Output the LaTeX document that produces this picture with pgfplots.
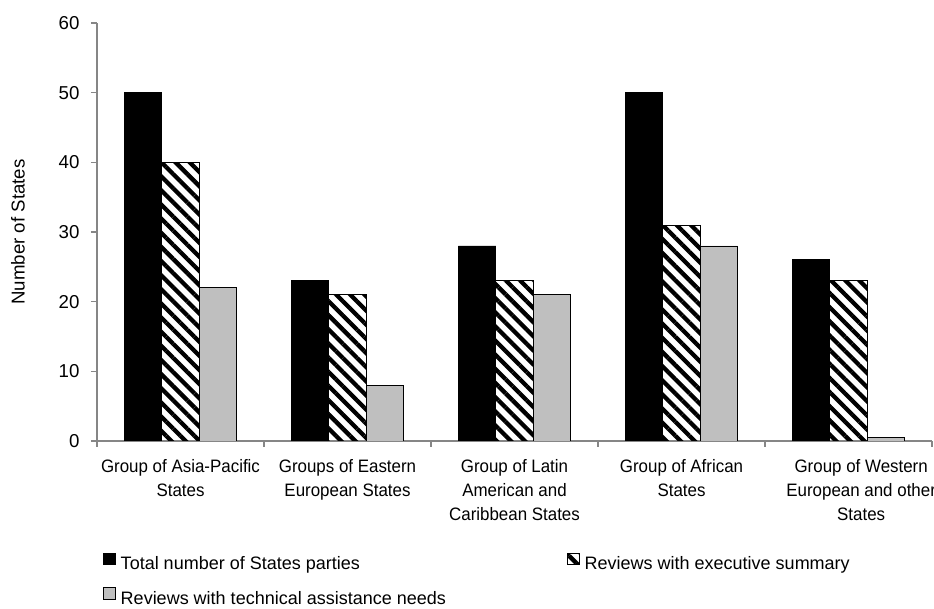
\documentclass[border=0pt]{standalone}
\usepackage{fontspec}
\setmainfont{Liberation Sans}
\newfontfamily\catfont[FakeStretch=0.94]{Liberation Sans}
\usepackage{pgfplots}
\pgfplotsset{compat=1.18}
\usetikzlibrary{patterns.meta}
\definecolor{axgray}{RGB}{134,134,134}
\definecolor{bargray}{RGB}{191,191,191}
\begin{document}
\begin{tikzpicture}
\useasboundingbox (-72.75pt,-126pt) rectangle (627.75pt,330.75pt);
\begin{axis}[
  at={(0,0)}, anchor=south west,
  scale only axis, width=626.25pt, height=313.5pt,
  xmin=-0.5, xmax=4.5, ymin=0, ymax=60,
  ybar=0pt, bar width=28.1pt,
  every axis plot/.append style={
    legend image code/.code={\draw[##1, line width=0.6pt] (0pt,-0.5pt) rectangle (8.5pt,8pt);}
  },
  axis x line*=bottom, axis y line*=left,
  axis line style={draw=axgray, line width=1pt},
  tick align=outside,
  major tick length=4.5pt, minor tick length=4.5pt,
  ytick={0,10,...,60},
  xtick={0,1,2,3,4},
  major x tick style={draw=none},
  minor xtick={-0.5,0.5,1.5,2.5,3.5,4.5},
  minor x tick style={draw=axgray, line width=1pt},
  major y tick style={draw=axgray, line width=1pt},
  xticklabels={{Group of Asia-Pacific\\States},{Groups of Eastern\\European States},{Group of Latin\\American and\\Caribbean States},{Group of African\\States},{\hspace*{19pt}Group of Western\\\hspace*{19pt}European and other\\\hspace*{19pt}States}},
  xticklabel style={align=center, font=\catfont\fontsize{13.5}{18}\selectfont, inner sep=0pt, yshift=-9.5pt, text=black},
  yticklabel style={font=\fontsize{14}{16}\selectfont, inner sep=0pt, xshift=-8.5pt, text=black},
  /pgf/number format/assume math mode=true,
  ylabel={Number of States},
  ylabel style={at={(axis description cs:-0.0946,0.5)}, anchor=center, font=\fontsize{14}{16}\selectfont},
  legend columns=2,
  legend cell align=left,
  legend style={at={(axis description cs:0.0072,-0.267)}, anchor=north west, draw=none, inner sep=0pt, row sep=10pt,
    font=\fontsize{13.5}{16}\selectfont,
    /tikz/every odd column/.append style={column sep=2pt},
    /tikz/every even column/.append style={column sep=89pt}},
]
\addplot[fill=black, draw=black, line width=0.6pt] coordinates {(0,50) (1,23) (2,28) (3,50) (4,26)};
\addlegendentry{Total number of States parties}
\addplot[pattern={Lines[angle=-45,distance=7.5pt,line width=3.2pt]}, pattern color=black, draw=black, line width=0.6pt] coordinates {(0,40) (1,21) (2,23) (3,31) (4,23)};
\addlegendentry{Reviews with executive summary}
\addplot[fill=bargray, draw=black, line width=0.6pt] coordinates {(0,22) (1,8) (2,21) (3,28) (4,0.5)};
\addlegendentry{Reviews with technical assistance needs}
\end{axis}
\end{tikzpicture}
\end{document}
